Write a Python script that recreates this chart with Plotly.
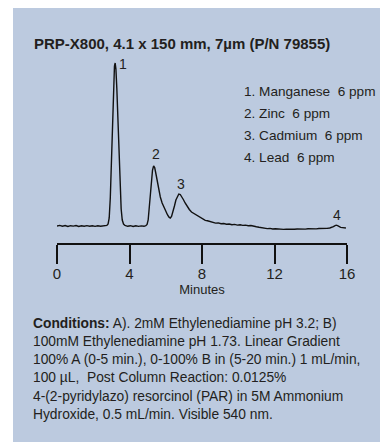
import plotly.graph_objects as go

# Chromatogram: detector response vs. retention time (minutes)
time_min = [
    0.00, 0.15, 0.30, 0.45, 0.60, 0.75, 0.90, 1.05, 1.20, 1.35, 1.50, 1.65, 1.80, 1.95,
    2.10, 2.25, 2.40, 2.55, 2.65, 2.75, 2.82, 2.88, 2.94, 3.00, 3.06, 3.12, 3.17, 3.21,
    3.25, 3.30, 3.36, 3.42, 3.48, 3.54, 3.60, 3.67, 3.75, 3.90, 4.05, 4.20, 4.35, 4.50,
    4.65, 4.80, 4.90, 4.97, 5.03, 5.09, 5.15, 5.21, 5.27, 5.33, 5.39, 5.46, 5.53, 5.61,
    5.70, 5.80, 5.90, 6.00, 6.10, 6.18, 6.25, 6.32, 6.40, 6.48, 6.56, 6.64, 6.72, 6.80,
    6.88, 6.97, 7.07, 7.18, 7.30, 7.42, 7.55, 7.68, 7.80, 7.92, 8.05, 8.18, 8.30, 8.45,
    8.60, 8.75, 8.90, 9.05, 9.20, 9.35, 9.50, 9.65, 9.80, 9.95, 10.10, 10.25, 10.40,
    10.55, 10.70, 10.85, 11.00, 11.15, 11.30, 11.45, 11.60, 11.75, 11.90, 12.05, 12.20,
    12.35, 12.50, 12.65, 12.80, 12.95, 13.10, 13.25, 13.40, 13.55, 13.70, 13.85, 14.00,
    14.15, 14.30, 14.45, 14.60, 14.75, 14.90, 15.05, 15.15, 15.25, 15.32, 15.40, 15.48,
    15.56, 15.65, 15.75, 15.85, 15.94,
]
signal = [
    0.0, 0.6, -0.2, 0.4, -0.5, 0.3, -0.1, 0.5, -0.4, 0.2, -0.3, 0.4, -0.2, 0.3,
    -0.4, 0.2, -0.3, 0.4, 0.1, 0.6, 2.0, 8.0, 28.0, 68.0, 112.0, 148.0, 160.0, 163.0,
    157.0, 138.0, 105.0, 68.0, 38.0, 17.0, 6.0, 2.0, 0.6, -0.3, 0.3, -0.5, 0.2, -0.4,
    0.1, -0.3, 0.3, 1.5, 6.0, 17.0, 32.0, 46.0, 56.0, 60.0, 58.5, 52.0, 44.0, 36.0,
    29.0, 23.0, 18.5, 14.5, 11.0, 8.8, 8.0, 9.5, 14.0, 20.0, 26.0, 30.0, 32.0, 31.5,
    29.5, 26.5, 23.0, 19.5, 16.5, 14.0, 12.5, 11.0, 9.5, 7.8, 6.8, 5.6, 5.2, 4.2,
    3.8, 2.9, 3.1, 2.3, 2.5, 1.8, 2.0, 1.3, 1.6, 0.9, 1.2, 0.6, 0.9,
    0.3, 0.5, -0.4, -0.8, -1.3, -1.9, -2.2, -2.6, -2.4, -3.0, -2.8, -3.2,
    -3.0, -3.4, -3.1, -3.3, -2.9, -3.3, -3.0, -3.2, -2.8, -3.1, -2.7, -3.0,
    -2.6, -2.9, -2.5, -2.7, -2.3, -2.4, -2.0, -1.5, -0.6, 0.2, 0.8, 0.3,
    -0.8, -1.4, -1.6, -1.9, -2.0,
]

# Peak identification
peak_numbers = ["1", "2", "3", "4"]
peak_times = [3.21, 5.33, 6.72, 15.40]
analytes = ["Manganese", "Zinc", "Cadmium", "Lead"]
concentration_ppm = [6, 6, 6, 6]

tick_values = [0, 4, 8, 12, 16]
tick_labels = ["0", "4", "8", "12", "16"]

title_text = "PRP-X800, 4.1 x 150 mm, 7µm (P/N 79855)"
conditions_lines = [
    "<b>Conditions:</b> A). 2mM Ethylenediamine pH 3.2; B)",
    "100mM Ethylenediamine pH 1.73. Linear Gradient",
    "100% A (0-5 min.), 0-100% B in (5-20 min.) 1 mL/min,",
    "100 µL,\u00a0 Post Column Reaction: 0.0125%",
    "4-(2-pyridylazo) resorcinol (PAR) in 5M Ammonium",
    "Hydroxide, 0.5 mL/min. Visible 540 nm.",
]

FONT = "Liberation Sans, Arial, sans-serif"
INK = "#231f20"
PANEL = "#bccadf"

W, H = 380, 444
L, R, T, B = 57, 33, 50, 201
PW, PH = W - L - R, H - T - B


def px(x):
    return (x - L) / PW


def py(y):
    return (H - B - y) / PH


fig = go.Figure()
fig.add_trace(go.Scatter(
    x=time_min, y=signal, mode="lines",
    line=dict(color="#111111", width=1.4),
    hoverinfo="skip", showlegend=False,
))

annotations = []

# Peak numbers placed just above each peak maximum
peak_heights = [signal[time_min.index(t)] for t in peak_times]
label_offsets = [(8, -1), (2, 12), (2, 10), (1, 10)]
for num, t, h, (dx, dy) in zip(peak_numbers, peak_times, peak_heights, label_offsets):
    annotations.append(dict(
        x=t, y=h, xref="x", yref="y", text=num, showarrow=False,
        xshift=dx, yshift=dy, xanchor="center", yanchor="middle",
        font=dict(family=FONT, size=14, color=INK),
    ))

# Peak key
for i, (num, name, c) in enumerate(zip(peak_numbers, analytes, concentration_ppm)):
    annotations.append(dict(
        x=px(242), y=py(91 + 22 * i), xref="paper", yref="paper",
        text=f"{num}. {name}\u00a0 {c} ppm", showarrow=False,
        xanchor="left", yanchor="middle",
        font=dict(family=FONT, size=13.6, color=INK),
    ))

# Column title
annotations.append(dict(
    x=px(32), y=py(43), xref="paper", yref="paper",
    text=f"<b>{title_text}</b>", showarrow=False,
    xanchor="left", yanchor="middle",
    font=dict(family=FONT, size=15, color=INK),
))

# Chromatographic conditions
for i, line in enumerate(conditions_lines):
    annotations.append(dict(
        x=px(31), y=py(323 + 18.3 * i), xref="paper", yref="paper",
        text=line, showarrow=False, xanchor="left", yanchor="middle",
        font=dict(family=FONT, size=13.8, color=INK),
    ))

fig.update_layout(
    width=W, height=H,
    margin=dict(l=L, r=R, t=T, b=B, pad=0),
    paper_bgcolor="white", plot_bgcolor="rgba(0,0,0,0)",
    showlegend=False,
    annotations=annotations,
    shapes=[dict(
        type="rect", xref="paper", yref="paper", layer="below",
        x0=px(13), x1=px(380), y0=py(442), y1=py(8),
        fillcolor=PANEL, line=dict(width=0),
    )],
    xaxis=dict(
        range=[0, 16], tickvals=tick_values, ticktext=tick_labels,
        showgrid=False, zeroline=False, showline=True,
        linecolor="#111111", linewidth=1.5,
        ticks="outside", ticklen=19, tickwidth=1.5, tickcolor="#111111",
        ticklabelstandoff=-3,
        tickfont=dict(family=FONT, size=15, color=INK),
        title=dict(text="Minutes", standoff=0,
                   font=dict(family=FONT, size=13, color=INK)),
        fixedrange=True,
    ),
    yaxis=dict(range=[-17, 176], visible=False, fixedrange=True),
)

fig.write_html("out.html", config={"displayModeBar": False})
